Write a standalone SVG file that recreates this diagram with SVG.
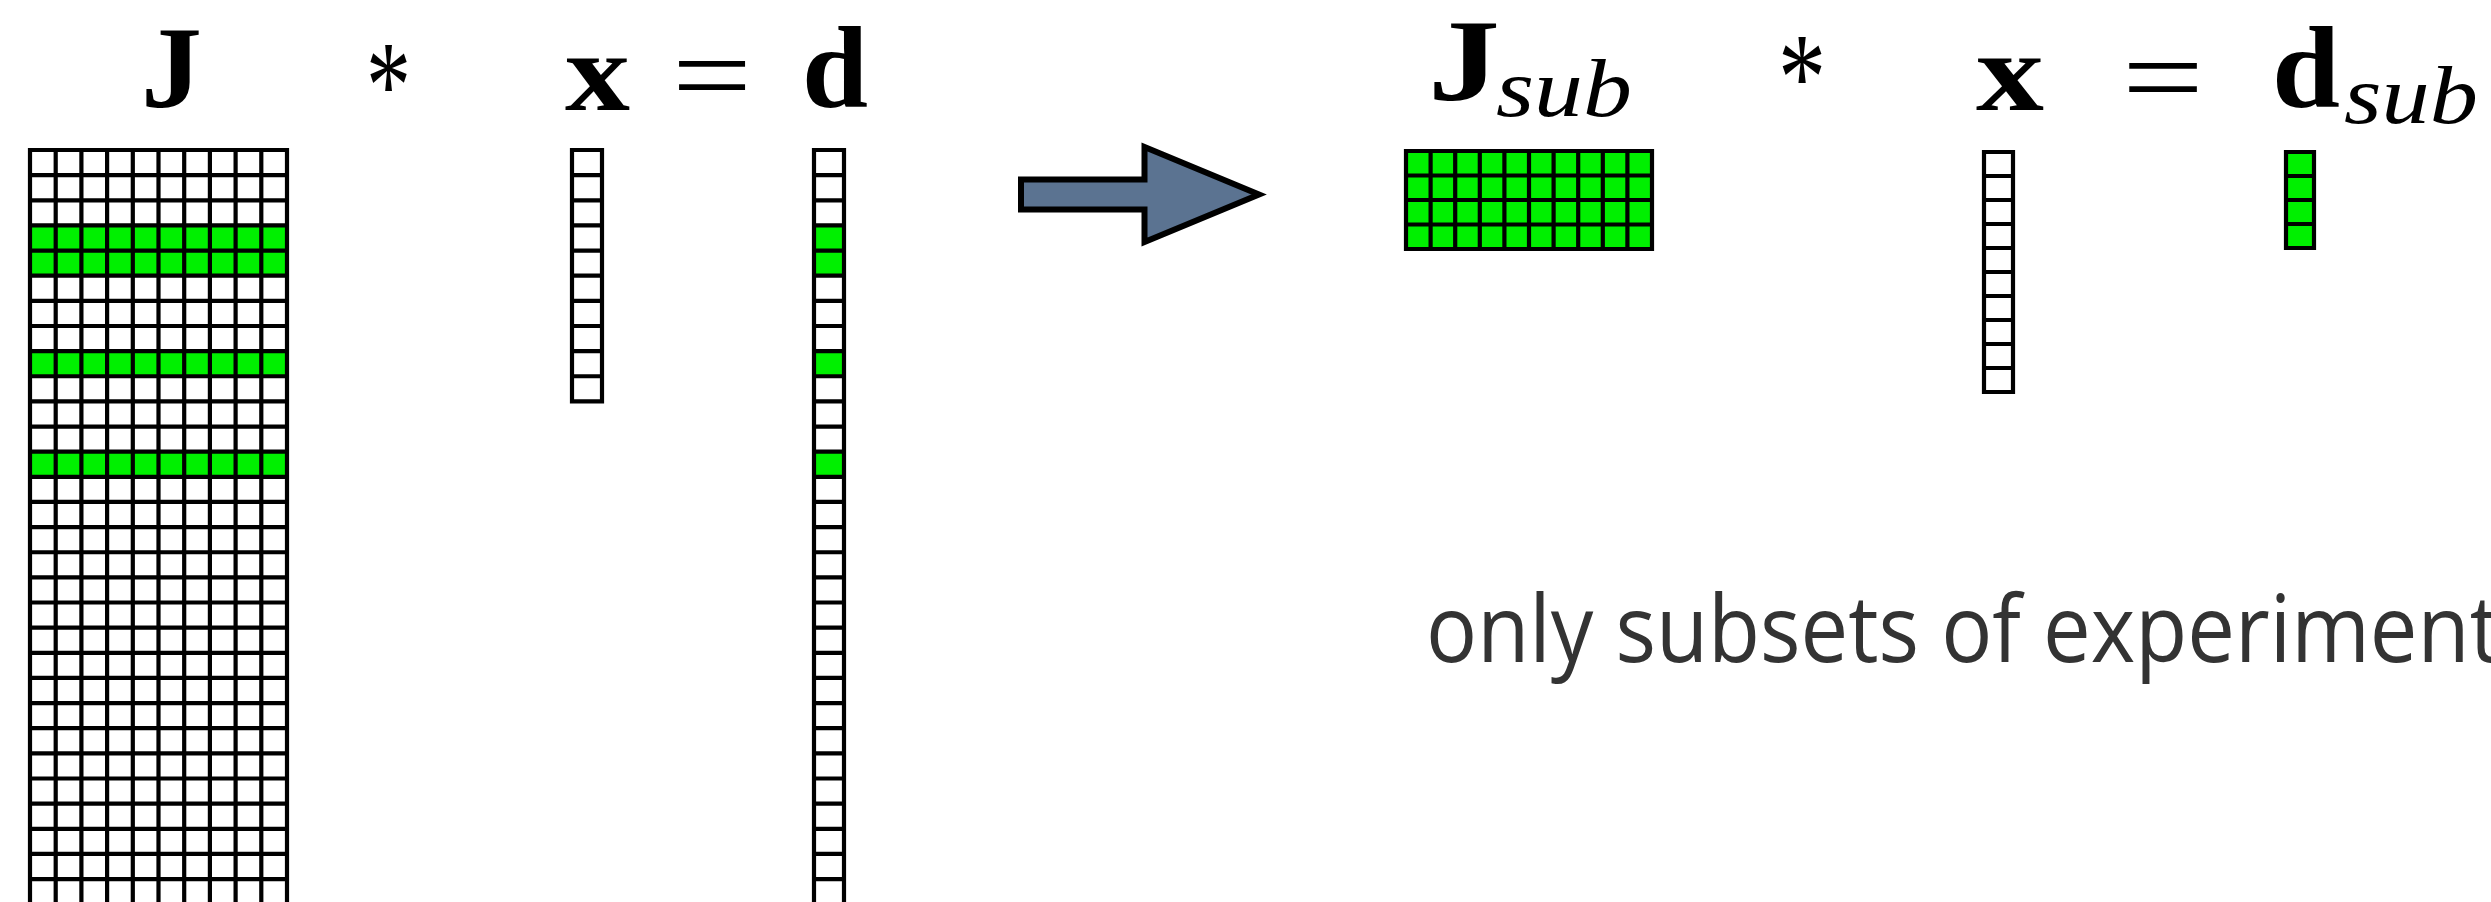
<svg xmlns="http://www.w3.org/2000/svg" width="2491" height="902" viewBox="0 0 2491 902">
<style>
.grid{fill:none;stroke:#000;stroke-width:4.2;stroke-linecap:square}
.green{fill:#00f000}
.white{fill:#ffffff}
.math{font-family:"Liberation Serif","DejaVu Serif",serif;font-weight:bold;fill:#000}
.op{font-family:"Liberation Serif","DejaVu Serif",serif;font-weight:normal;fill:#000}
.sub{font-family:"Liberation Serif","DejaVu Serif",serif;font-style:italic;font-weight:normal;fill:#000}
.caption{font-family:"Open Sans","Noto Sans",sans-serif;fill:#333333}
</style>
<rect width="2491" height="902" fill="#ffffff"/>

<g id="equation-left">
<text class="math" x="141" y="107" font-size="116" textLength="61" lengthAdjust="spacingAndGlyphs">J</text>
<text class="op" x="366" y="127" font-size="124" textLength="45" lengthAdjust="spacingAndGlyphs">*</text>
<text class="math" x="565" y="110" font-size="112" textLength="65" lengthAdjust="spacingAndGlyphs">x</text>
<text class="op" x="672" y="114" font-size="116" textLength="80" lengthAdjust="spacingAndGlyphs">=</text>
<text class="math" x="802" y="107" font-size="116" textLength="66" lengthAdjust="spacingAndGlyphs">d</text>
</g>

<g id="matrix-J">
<rect class="white" x="30" y="150" width="257" height="760"/>
<rect class="green" x="30" y="225.42" width="257" height="50.28"/>
<rect class="green" x="30" y="351.12" width="257" height="25.14"/>
<rect class="green" x="30" y="451.68" width="257" height="25.14"/>
<path class="grid" d="M30 150V910M55.7 150V910M81.4 150V910M107.1 150V910M132.8 150V910M158.5 150V910M184.2 150V910M209.9 150V910M235.6 150V910M261.3 150V910M287 150V910
M30 150H287M30 175.14H287M30 200.28H287M30 225.42H287M30 250.56H287M30 275.7H287M30 300.84H287M30 325.98H287M30 351.12H287M30 376.26H287M30 401.4H287M30 426.54H287M30 451.68H287M30 476.82H287M30 501.96H287M30 527.1H287M30 552.24H287M30 577.38H287M30 602.52H287M30 627.66H287M30 652.8H287M30 677.94H287M30 703.08H287M30 728.22H287M30 753.36H287M30 778.5H287M30 803.64H287M30 828.78H287M30 853.92H287M30 879.06H287M30 904.2H287"/>
</g>

<g id="vector-x">
<path class="grid" d="M572 150V401.4M602 150V401.4M572 150H602M572 175.14H602M572 200.28H602M572 225.42H602M572 250.56H602M572 275.7H602M572 300.84H602M572 325.98H602M572 351.12H602M572 376.26H602M572 401.4H602"/>
</g>

<g id="vector-d">
<rect class="green" x="814" y="225.42" width="30" height="50.28"/>
<rect class="green" x="814" y="351.12" width="30" height="25.14"/>
<rect class="green" x="814" y="451.68" width="30" height="25.14"/>
<path class="grid" d="M814 150V910M844 150V910
M814 150H844M814 175.14H844M814 200.28H844M814 225.42H844M814 250.56H844M814 275.7H844M814 300.84H844M814 325.98H844M814 351.12H844M814 376.26H844M814 401.4H844M814 426.54H844M814 451.68H844M814 476.82H844M814 501.96H844M814 527.1H844M814 552.24H844M814 577.38H844M814 602.52H844M814 627.66H844M814 652.8H844M814 677.94H844M814 703.08H844M814 728.22H844M814 753.36H844M814 778.5H844M814 803.64H844M814 828.78H844M814 853.92H844M814 879.06H844M814 904.2H844"/>
</g>

<g id="connectors">
<polygon points="1021,179.5 1144.5,179.5 1144.5,147 1259,194.5 1144.5,242 1144.5,209.5 1021,209.5" fill="#5b7391" stroke="#000" stroke-width="6" stroke-linejoin="miter"/>
</g>

<g id="equation-right">
<text class="math" x="1428" y="100" font-size="116" textLength="72" lengthAdjust="spacingAndGlyphs">J</text>
<text class="sub" x="1496" y="116" font-size="82" textLength="136" lengthAdjust="spacingAndGlyphs">sub</text>
<text class="op" x="1778" y="119" font-size="124" textLength="48" lengthAdjust="spacingAndGlyphs">*</text>
<text class="math" x="1976" y="110" font-size="112" textLength="68" lengthAdjust="spacingAndGlyphs">x</text>
<text class="op" x="2122" y="116" font-size="116" textLength="82" lengthAdjust="spacingAndGlyphs">=</text>
<text class="math" x="2272" y="107" font-size="116" textLength="68" lengthAdjust="spacingAndGlyphs">d</text>
<text class="sub" x="2344" y="123" font-size="82" textLength="134" lengthAdjust="spacingAndGlyphs">sub</text>
</g>

<g id="matrix-Jsub">
<rect class="green" x="1406" y="151" width="246" height="98"/>
<path class="grid" d="M1406 151V249M1430.6 151V249M1455.2 151V249M1479.8 151V249M1504.4 151V249M1529 151V249M1553.6 151V249M1578.2 151V249M1602.8 151V249M1627.4 151V249M1652 151V249
M1406 151H1652M1406 175.5H1652M1406 200H1652M1406 224.5H1652M1406 249H1652"/>
</g>

<g id="vector-x-sub">
<path class="grid" d="M1984 152V392M2013 152V392M1984 152H2013M1984 176H2013M1984 200H2013M1984 224H2013M1984 248H2013M1984 272H2013M1984 296H2013M1984 320H2013M1984 344H2013M1984 368H2013M1984 392H2013"/>
</g>

<g id="vector-dsub">
<rect class="green" x="2286" y="152" width="28" height="96"/>
<path class="grid" d="M2286 152V248M2314 152V248M2286 152H2314M2286 176H2314M2286 200H2314M2286 224H2314M2286 248H2314"/>
</g>

<g id="caption">
<text class="caption" x="1426" y="662" font-size="93" textLength="1074" lengthAdjust="spacingAndGlyphs">only subsets of experiment</text>
</g>
</svg>
